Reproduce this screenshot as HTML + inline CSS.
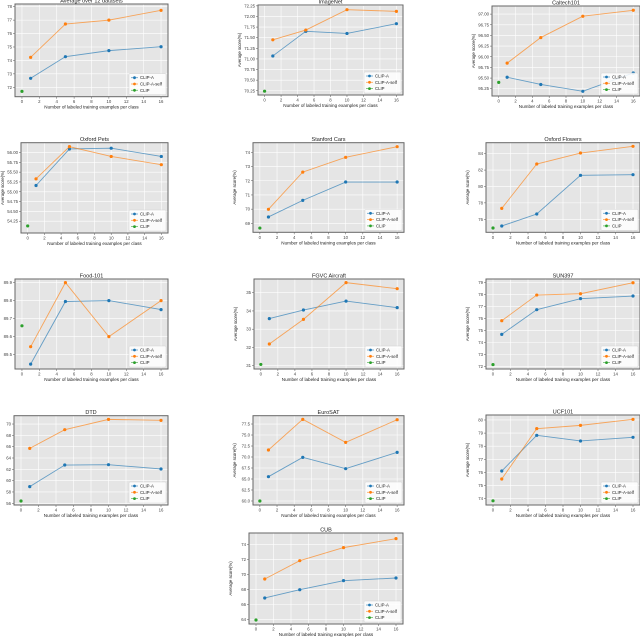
<!DOCTYPE html>
<html><head><meta charset="utf-8"><style>
html,body{margin:0;padding:0;background:#fff;}
svg{display:block;font-family:"Liberation Sans",sans-serif;}
</style></head><body>
<svg id="fig" width="640" height="637" viewBox="0 0 640 637" xmlns="http://www.w3.org/2000/svg"></svg>
<script>
const titles = ["Average over 12 datasets","ImageNet","Caltech101","Oxford Pets","Stanford Cars","Oxford Flowers","Food-101","FGVC Aircraft","SUN397","DTD","EuroSAT","UCF101","CUB"];
const shots = [1,5,10,16];
const xTicks = [0,2,4,6,8,10,12,14,16];
const clipAValues = [
 [72.67,74.28,74.73,75.02],
 [71.07,71.65,71.60,71.83],
 [95.52,95.35,95.19,95.62],
 [55.16,56.09,56.11,55.90],
 [69.45,70.62,71.91,71.91],
 [75.18,76.64,81.36,81.44],
 [89.447,89.795,89.80,89.75],
 [33.58,34.05,34.54,34.18],
 [74.69,76.75,77.67,77.89],
 [58.94,62.76,62.82,62.06],
 [65.53,69.92,67.35,71.06],
 [76.11,78.83,78.40,78.68],
 [66.88,67.98,69.18,69.53]
];
const clipSelfValues = [
 [74.23,76.71,77.00,77.73],
 [71.45,71.68,72.16,72.12],
 [95.85,96.45,96.95,97.09],
 [55.33,56.15,55.90,55.69],
 [69.99,72.61,73.65,74.40],
 [77.33,82.74,84.08,84.90],
 [89.544,89.90,89.60,89.80],
 [32.19,33.54,35.55,35.22],
 [75.83,77.97,78.08,79.00],
 [65.70,69.00,70.82,70.65],
 [71.59,78.56,73.33,78.48],
 [75.50,79.34,79.59,80.05],
 [69.40,71.83,73.56,74.75]
];
const clipZeroShot = [71.70,70.24,95.40,54.13,68.67,74.93,89.66,31.07,72.17,56.41,60.00,73.84,63.96];
const yTickLabels = [
 ["72","73","74","75","76","77","78"],
 ["70.25","70.50","70.75","71.00","71.25","71.50","71.75","72.00","72.25"],
 ["95.25","95.50","95.75","96.00","96.25","96.50","96.75","97.00"],
 ["54.25","54.50","54.75","55.00","55.25","55.50","55.75","56.00"],
 ["69","70","71","72","73","74"],
 ["76","78","80","82","84"],
 ["89.5","89.6","89.7","89.8","89.9"],
 ["31","32","33","34","35"],
 ["72","73","74","75","76","77","78","79"],
 ["56","58","60","62","64","66","68","70"],
 ["60.0","62.5","65.0","67.5","70.0","72.5","75.0","77.5"],
 ["74","75","76","77","78","79","80"],
 ["64","66","68","70","72","74"]
];
const yMins = [71.3,70.15,95.08,53.95,68.37,74.41,89.42,30.82,71.8,55.7,59.09,73.52,63.43];
const yMaxs = [78.2,72.27,97.19,56.25,74.68,85.34,89.92,35.75,79.31,71.47,79.39,80.38,75.5];
// layout boxes [left, top, right, bottom]
const boxes = [
 [15,4,168,96.7],[258,5,403,95],[492,6,640,96],
 [21,142.7,168,233],[253,142.7,404,232.3],[486,142.7,640,232.3],
 [15,279,168,369],[254,279,404,369],[486,279,640,369],
 [14,415.7,168,505],[253,415.7,404,505],[486,415,640,505],
 [249,533,403,624]
];
const XMIN=-0.8, XMAX=16.8;
const NS="http://www.w3.org/2000/svg";
const svg=document.getElementById('fig');
function mk(tag,attrs,parent){const e=document.createElementNS(NS,tag);for(const k in attrs)e.setAttribute(k,attrs[k]);(parent||svg).appendChild(e);return e;}
const BLUE="#1f77b4",ORANGE="#ff7f0e",GREEN="#2ca02c";
titles.forEach((t,i)=>{
  const [L,T,R,B]=boxes[i];
  const g=mk('g',{});
  
  
  const xs=v=>L+(v-XMIN)/(XMAX-XMIN)*(R-L);
  const ys=v=>T+(yMaxs[i]-v)/(yMaxs[i]-yMins[i])*(B-T);
  const bg=mk('rect',{x:L,y:T,width:R-L,height:B-T,fill:'#e5e5e5'},g);
  
  
  xTicks.forEach(v=>{
    const x=xs(v);
    mk('line',{x1:x,x2:x,y1:T,y2:B,stroke:'#fff','stroke-width':0.6},g);
    mk('line',{x1:x,x2:x,y1:B,y2:B+2,stroke:'#555','stroke-width':0.5},g);
    const tx=mk('text',{x:x,y:B+6.5,'font-size':4.3,fill:'#444','text-anchor':'middle'},g);
    tx.textContent=v;
    
    
  });
  yTickLabels[i].forEach(s=>{
    const y=ys(parseFloat(s));
    mk('line',{x1:L,x2:R,y1:y,y2:y,stroke:'#fff','stroke-width':0.6},g);
    mk('line',{x1:L-2,x2:L,y1:y,y2:y,stroke:'#555','stroke-width':0.5},g);
    const ty=mk('text',{x:L-3,y:y+1.5,'font-size':4.3,fill:'#444','text-anchor':'end'},g);
    ty.textContent=s;
    
    
  });
  mk('rect',{x:L,y:T,width:R-L,height:B-T,fill:'none',stroke:'#666','stroke-width':1},g);
  const ti=mk('text',{x:(L+R)/2,y:T-1.5,'font-size':5.5,fill:'#222','text-anchor':'middle'},g);
  ti.textContent=t;
  
  
  const xl=mk('text',{x:(L+R)/2,y:B+12,'font-size':4.6,fill:'#222','text-anchor':'middle'},g);
  xl.textContent='Number of labeled training examples per class';
  
  
  const yx=L-17, yy=(T+B)/2;
  const yl=mk('text',{x:yx,y:yy,'font-size':4.3,fill:'#222','text-anchor':'middle',transform:`rotate(-90 ${yx} ${yy})`},g);
  yl.textContent='Average score(%)';
  
  
  [[clipAValues[i],BLUE,'clip-a'],[clipSelfValues[i],ORANGE,'clip-a-self']].forEach(([vals,c,nm])=>{
    const pts=vals.map((v,k)=>xs(shots[k])+','+ys(v)).join(' ');
    const pl=mk('polyline',{points:pts,fill:'none',stroke:c,'stroke-width':0.9,'stroke-opacity':0.65},g);
    
    
    vals.forEach((v,k)=>{
      const m=mk('circle',{cx:xs(shots[k]),cy:ys(v),r:1.6,fill:c},g);
      
      
    });
  });
  const cz=mk('circle',{cx:xs(0),cy:ys(clipZeroShot[i]),r:1.6,fill:GREEN},g);
  
  
  // legend
  const lw=37,lh=21,lx=R-lw-2,ly=B-lh-2;
  const lg=mk('g',{},g);
  
  
  mk('rect',{x:lx,y:ly,width:lw,height:lh,fill:'#fff','fill-opacity':0.85,stroke:'#ccc','stroke-width':0.4,rx:1},lg);
  [['CLIP-A',BLUE],['CLIP-A-self',ORANGE],['CLIP',GREEN]].forEach(([n,c],k)=>{
    const y=ly+4+k*6.3;
    mk('line',{x1:lx+2,x2:lx+9,y1:y,y2:y,stroke:c,'stroke-width':0.8,'stroke-opacity':0.7},lg);
    mk('circle',{cx:lx+5.5,cy:y,r:1.4,fill:c},lg);
    const lt=mk('text',{x:lx+11,y:y+1.5,'font-size':4.3,fill:'#222'},lg);
    lt.textContent=n;
    
    
  });
});
</script>
</body></html>
